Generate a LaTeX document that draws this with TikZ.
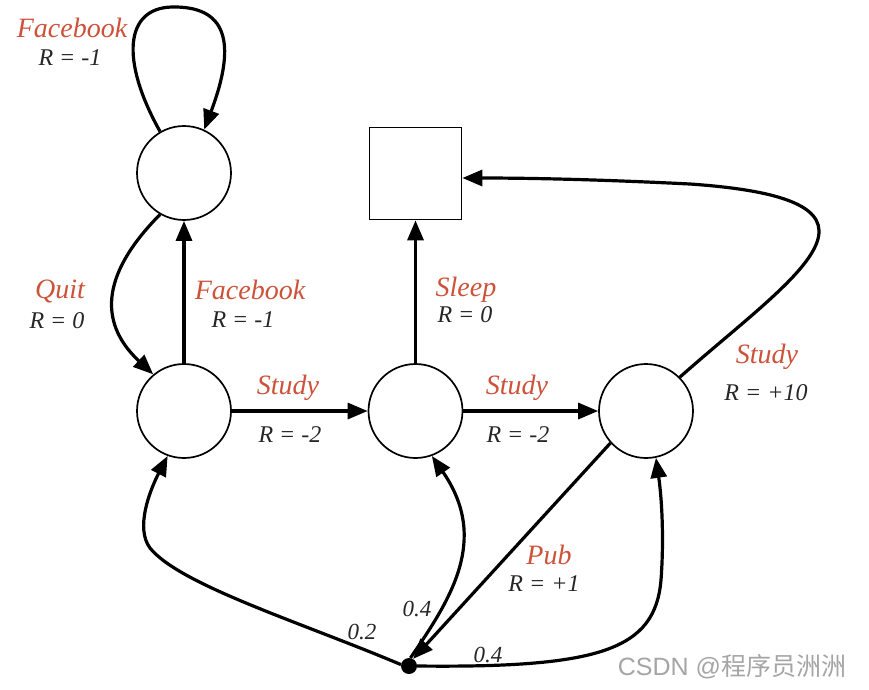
\documentclass[tikz,border=0pt]{standalone}
\usepackage{fontspec}
\setmainfont{Liberation Serif}
\newfontfamily\cjkfont{Noto Sans CJK SC}
\newfontfamily\wmfont{Liberation Sans}
\usetikzlibrary{arrows.meta}
\definecolor{lblred}{RGB}{204,82,58}
\definecolor{wmgray}{RGB}{165,165,165}
\tikzset{
  state/.style={draw, line width=1.7pt, circle, minimum size=94pt, inner sep=0pt},
  term/.style={draw, line width=1.7pt, rectangle, minimum size=92pt, inner sep=0pt},
  dotnode/.style={fill, circle, minimum size=16pt, inner sep=0pt},
  conn/.style={line width=3.2pt, -{Triangle[length=20pt,width=16pt]}},
  act/.style={text=lblred, font=\fontsize{28}{30}\selectfont\itshape, inner sep=0pt},
  rew/.style={text=black!85, font=\fontsize{24}{26}\selectfont\itshape, inner sep=0pt},
  prob/.style={text=black!85, font=\fontsize{23}{25}\selectfont\itshape, inner sep=0pt},
}
\begin{document}
\begin{tikzpicture}[x=1pt,y=-1pt]
\useasboundingbox (0,0) rectangle (869,689);
\node[state] (fb) at (184,173) {};
\node[state] (c1) at (184,411) {};
\node[state] (c2) at (415.5,411) {};
\node[state] (c3) at (646,411) {};
\node[term] (sq) at (415.5,173.5) {};
\node[dotnode] (pd) at (409,666) {};
% self loop
\draw[conn] (fb.120) .. controls (120,60) and (125,8) .. (172,7) .. controls (225,6) and (238,40) .. (fb.65);
% quit
\draw[conn] (fb.240) .. controls (105,270) and (95,320) .. (c1.130);
% facebook up
\draw[conn] (c1.north) -- (fb.south);
% study arrows
\draw[conn] (c1.east) -- (c2.west);
\draw[conn] (c2.east) -- (c3.west);
% sleep
\draw[conn] (c2.north) -- (sq.south);
% study to terminal
\draw[conn] (c3.45) .. controls (795,275) and (920,200) .. (690,184) .. controls (590,179) and (520,178) .. (sq.east |- 0,178);
% pub
\draw[conn] (c3.222) -- (pd.60);
% probabilities
\draw[conn] (pd.170) .. controls (300,622) and (180,585) .. (150,548) .. controls (135,528) and (150,490) .. (c1.250);
\draw[conn] (pd.80) .. controls (450,600) and (490,540) .. (c2.290);
\draw[conn] (pd.east) .. controls (600,668) and (655,650) .. (661,580) .. controls (664,540) and (662,500) .. (c3.282);
% labels
\node[act] (l1) at (72,28) {Facebook};
\node[rew] (r1) at (70,58) {R = -1};
\node[act] (l2) at (60,291) {Quit};
\node[rew] (r2) at (57,321) {R = 0};
\node[act] (l3) at (250,290) {Facebook};
\node[rew] (r3) at (243,320) {R = -1};
\node[act] (l4) at (288,388) {Study};
\node[rew] (r4) at (290,435) {R = -2};
\node[act] (l5) at (466,290) {Sleep};
\node[rew] (r5) at (465,315) {R = 0};
\node[act] (l6) at (517,388) {Study};
\node[rew] (r6) at (518,435) {R = -2};
\node[act] (l7) at (767,357) {Study};
\node[rew] (r7) at (766,393) {R = +10};
\node[act] (l8) at (549,555) {Pub};
\node[rew] (r8) at (544,584) {R = +1};
\node[prob] (p1) at (362,632) {0.2};
\node[prob] (p2) at (417,609) {0.4};
\node[prob] (p3) at (488,655) {0.4};
\node[text=wmgray, font=\fontsize{25}{28}\selectfont\wmfont, inner sep=0pt] (wm) at (732,667) {CSDN @{\cjkfont 程序员洲洲}};
\end{tikzpicture}
\end{document}
